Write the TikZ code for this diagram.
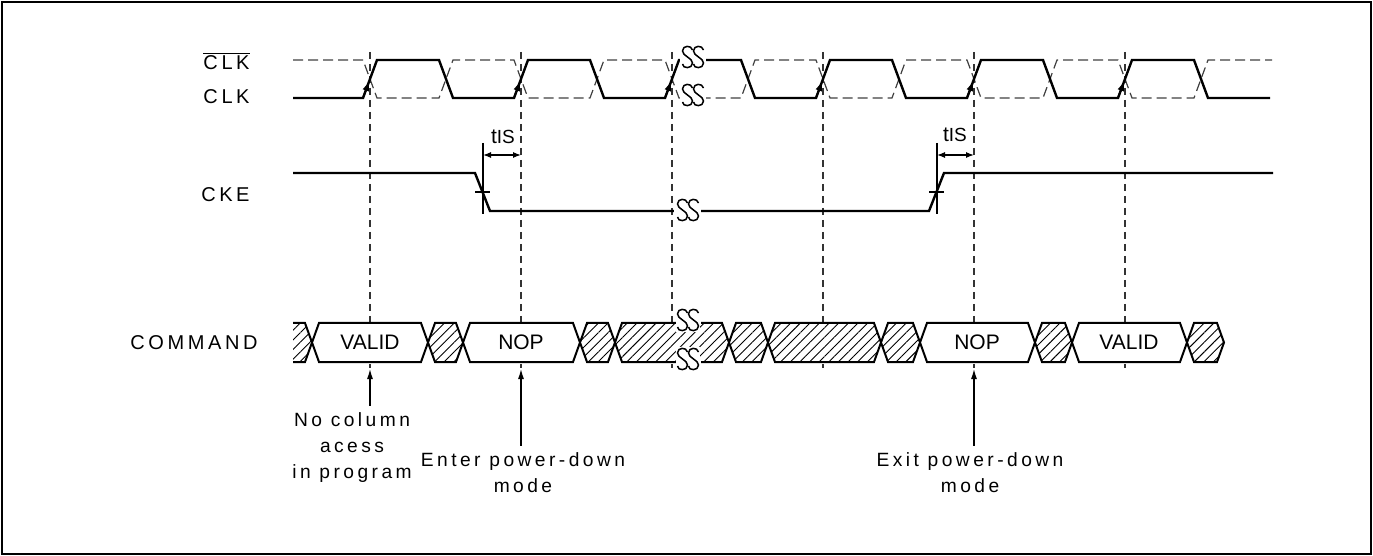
\documentclass[tikz,border=0pt]{standalone}
\usepackage{fontspec}
\setmainfont{Liberation Sans}
\newfontfamily\spaced[LetterSpace=18]{Liberation Sans}
\usetikzlibrary{arrows.meta,patterns.meta}

\tikzset{
  sig/.style={line width=1.2pt, line join=miter},
  busline/.style={line width=1pt},
  guide/.style={black!80, line width=0.6pt, dash pattern=on 3.5pt off 2.5pt},
  inv/.style={black!75, line width=0.6pt, dash pattern=on 5pt off 2.5pt},
  hatchfill/.style={preaction={fill=white}, pattern={Lines[angle=45,distance=3.4pt,line width=0.45pt]}},
  hatched/.style={hatchfill, draw, busline},
  plainbox/.style={fill=white, draw, busline},
  lbl/.style={font=\spaced\fontsize{10}{12}\selectfont, inner sep=0pt},
  note/.style={font=\spaced\fontsize{9.6}{13}\selectfont, align=center},
  boxtxt/.style={font=\fontsize{10.5}{12}\selectfont},
  edgearrow/.style={-{Latex[length=5pt,width=3.5pt]}, line width=0.8pt},
  pointer/.style={-{Latex[length=5pt,width=3pt]}, line width=0.6pt},
  brk/.pic={
    \fill[white] (-12,-12) rectangle (12,12);
    \foreach \dx in {-5.5,5.5}
      \draw[line width=0.75pt, xshift=\dx*0.5pt] (5,-7) .. controls (4,-12) and (-5,-12) .. (-5,-6)
        .. controls (-5,-1) and (5,1) .. (5,6) .. controls (5,12) and (-5,12) .. (-5,7);
  },
}

\newcommand{\hexbox}[3]{\draw[#3] (#1,342.5) -- ({#1+7},323) -- ({#2-7},323) -- (#2,342.5) -- ({#2-7},362) -- ({#1+7},362) -- cycle;}

\begin{document}
\begin{tikzpicture}[x=0.5pt,y=-0.5pt]
\useasboundingbox (0,0) rectangle (1373,556);
\draw[line width=1pt] (2,2) rectangle (1371,554);

% signal names
\node[lbl, anchor=east] (clkb) at (250,61) {$\overline{\hbox{\spaced CLK}}$};
\node[lbl, anchor=east] (clk) at (250,97) {CLK};
\node[lbl, anchor=east] (cke) at (250,195) {CKE};
\node[lbl, anchor=east] (cmd) at (258,343) {COMMAND};

% reference lines at the rising edges
\foreach \k [evaluate=\k as \a using 370+151*\k] in {0,...,5}
  \draw[guide] (\a,52) -- (\a,368);

% clock pair
\draw[inv] (293,60) \foreach \k [evaluate=\k as \a using 370+151*\k, evaluate=\k as \b using 446+151*\k] in {0,...,5}
  { -- ({\a-7},60) -- ({\a+7},98) -- ({\b-7},98) -- ({\b+7},60) } -- (1272,60);
\draw[sig] (293,98) \foreach \k [evaluate=\k as \a using 370+151*\k, evaluate=\k as \b using 446+151*\k] in {0,...,5}
  { -- ({\a-7},98) -- ({\a+7},60) -- ({\b-7},60) -- ({\b+7},98) } -- (1270,98);
\foreach \k [evaluate=\k as \a using 370+151*\k] in {0,...,5}
  \draw[edgearrow] ({\a-7},98) -- ({\a-0.7},81);
\fill[white] (680,46) rectangle (706,108);
\pic at (693,57) {brk};
\pic at (693,95) {brk};

% CKE
\draw[sig] (293,173) -- (475,173) -- (490,211) -- (929,211) -- (944,173) -- (1273,173);
\fill[white] (674,198) rectangle (701,223);
\pic at (688,210) {brk};
\draw[line width=0.6pt] (475,192) -- (490,192) (483,143) -- (483,214);
\draw[line width=0.6pt] (929,192) -- (944,192) (937,143) -- (937,214);
\draw[pointer, {Latex[length=4pt,width=3pt]}-{Latex[length=4pt,width=3pt]}] (483,155) -- (521,155);
\draw[pointer, {Latex[length=4pt,width=3pt]}-{Latex[length=4pt,width=3pt]}] (937,155) -- (974,155);
\node[boxtxt] (tis1) at (503,137) {t{\fontsize{9.5}{9.5}\selectfont IS}};
\node[boxtxt] (tis2) at (955,135) {t{\fontsize{9.5}{9.5}\selectfont IS}};

% command bus
\fill[hatchfill] (293,323) -- (305,323) -- (312,342.5) -- (305,362) -- (293,362) -- cycle;
\draw[busline] (293,323) -- (305,323) -- (312,342.5) -- (305,362) -- (293,362);
\hexbox{312}{428}{plainbox}
\hexbox{463}{580}{plainbox}
\hexbox{920}{1035}{plainbox}
\hexbox{1072}{1187}{plainbox}
\foreach \p/\q in {428/463,580/615,729/768,768/881,881/920,1035/1072,1187/1224}
  {\hexbox{\p}{\q}{hatched}}
\fill[hatchfill] (615,342.5) -- (622,323) -- (722,323) -- (729,342.5) -- (722,362) -- (622,362) -- cycle;
\draw[busline] (676,323) -- (622,323) -- (615,342.5) -- (622,362) -- (676,362);
\draw[busline] (701,323) -- (722,323) -- (729,342.5) -- (722,362) -- (701,362);
\pic at (688,320) {brk};
\pic at (688,359) {brk};
\node[boxtxt] (valid1) at (370,342.5) {VALID};
\node[boxtxt] (nop1) at (521,342.5) {NOP};
\node[boxtxt] (nop2) at (977,342.5) {NOP};
\node[boxtxt] (valid2) at (1129,342.5) {VALID};

% notes
\coordinate (v0) at (370,369);
\coordinate (v1) at (521,369);
\coordinate (v4) at (974,369);
\node[note] (nocol) at (352,448) {No column\\acess\\in program};
\node[note] (enter) at (523,473) {Enter power-down\\mode};
\node[note] (exit) at (970,473) {Exit power-down\\mode};
\draw[pointer] (nocol.north -| v0) -- (v0);
\draw[pointer] (enter.north -| v1) -- (v1);
\draw[pointer] (exit.north -| v4) -- (v4);
\end{tikzpicture}
\end{document}
